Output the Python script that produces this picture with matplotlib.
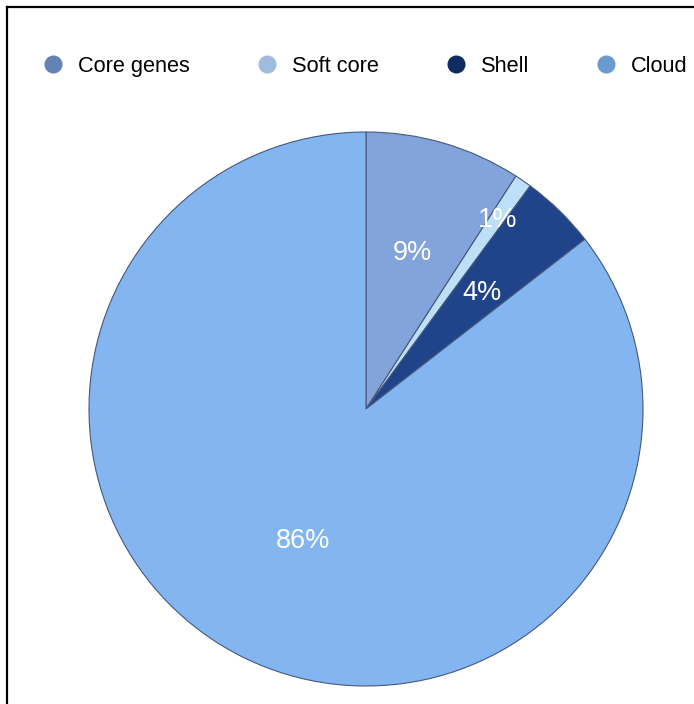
import numpy as np
import matplotlib
matplotlib.use("Agg")
import matplotlib.pyplot as plt
from matplotlib.lines import Line2D

categories = ["Core genes", "Soft core", "Shell", "Cloud"]
values = [9.1, 1.0, 4.4, 85.5]
slice_colors = ["#82a4da", "#bddff7", "#1f4489", "#83b6f0"]
legend_colors = ["#6483b5", "#9fbcdc", "#0f2b60", "#6a9bd0"]
label_radius = [0.6, 0.84, 0.6, 0.52]

plt.rcParams['font.family'] = ['Liberation Sans', 'DejaVu Sans']

W, H = 694, 704
fig = plt.figure(figsize=(W / 100, H / 100), dpi=100)

# frame lines (top and left)
fig.add_artist(Line2D([7 / W, 1], [1 - 7 / H, 1 - 7 / H], color="black", lw=1.6, transform=fig.transFigure))
fig.add_artist(Line2D([7 / W, 7 / W], [0, 1 - 7 / H], color="black", lw=1.6, transform=fig.transFigure))

cx, cy, r = 366, 409, 277
ax = fig.add_axes([(cx - r) / W, (H - cy - r) / H, 2 * r / W, 2 * r / H])
wedges, _ = ax.pie(values, colors=slice_colors, startangle=90, counterclock=False,
                   wedgeprops=dict(edgecolor="#46587a", linewidth=0.8))
ax.set_xlim(-1, 1)
ax.set_ylim(-1, 1)
ax.set_aspect("equal")
ax.axis("off")

total = sum(values)
for w, v, rr in zip(wedges, values, label_radius):
    mid = np.deg2rad((w.theta1 + w.theta2) / 2)
    ax.text(rr * np.cos(mid), rr * np.sin(mid), f"{round(v / total * 100):d}%",
            ha="center", va="center_baseline", color="white", fontsize=19.5)

# legend row drawn manually for consistent alignment
renderer = fig.canvas.get_renderer()
x = 53
ly = 1 - 64 / H
for name, c in zip(categories, legend_colors):
    fig.add_artist(Line2D([x / W], [ly], marker="o", markersize=13, color=c,
                          markeredgewidth=0, linestyle="", transform=fig.transFigure))
    t = fig.text((x + 25) / W, ly, name, ha="left", va="center_baseline",
                 fontsize=15.7, color="black")
    bb = t.get_window_extent(renderer)
    x = bb.x1 + 77

fig.savefig("out.png", dpi=100)
